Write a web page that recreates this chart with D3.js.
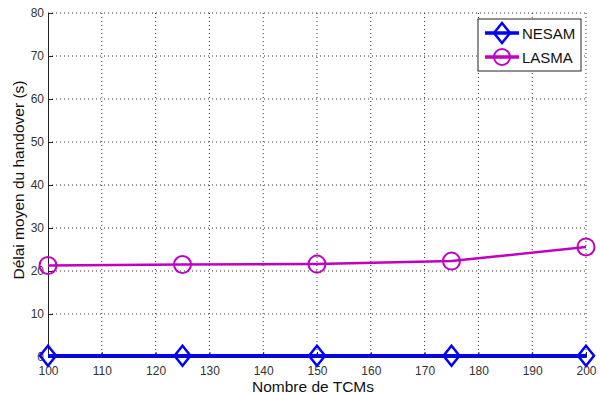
<!DOCTYPE html>
<meta charset="utf-8">
<script src="https://d3js.org/d3.v7.min.js"></script>
<style>
  body { margin: 0; background: #fff; }
  text { font-family: Arial, 'Liberation Sans', sans-serif; }
</style>
<body>
<div id="chart"></div>
<script>
// data
var tcms = [100, 125, 150, 175, 200];
var nesam = [0.3, 0.3, 0.3, 0.3, 0.3];
var lasma = [21.3, 21.5, 21.6, 22.3, 25.6];
var xTicks = [100, 110, 120, 130, 140, 150, 160, 170, 180, 190, 200];
var yTicks = [10, 20, 30, 40, 50, 60, 70, 80];

var W = 600, H = 394;
var margin = {top: 13, right: 14, bottom: 37, left: 48};
var width = W - margin.left - margin.right,
    height = H - margin.top - margin.bottom;

var svg = d3.select("#chart").append("svg")
    .attr("width", W).attr("height", H)
  .append("g")
    .attr("transform", "translate(" + margin.left + "," + margin.top + ")");

var x = d3.scaleLinear().domain([100, 200]).range([0, width]);
var y = d3.scaleLinear().domain([0, 80]).range([height, 0]);

// dotted grid
svg.append("g").selectAll("line").data(xTicks.slice(1))
  .enter().append("line")
    .attr("x1", d => x(d)).attr("x2", d => x(d))
    .attr("y1", 0).attr("y2", height)
    .attr("stroke", "#333").attr("stroke-width", 1)
    .attr("stroke-dasharray", "1,3");
svg.append("g").selectAll("line").data(yTicks)
  .enter().append("line")
    .attr("x1", 0).attr("x2", width)
    .attr("y1", d => y(d)).attr("y2", d => y(d))
    .attr("stroke", "#333").attr("stroke-width", 1)
    .attr("stroke-dasharray", "1,3");

// axes
var xAxis = svg.append("g")
  .attr("transform", "translate(0," + height + ")")
  .call(d3.axisBottom(x).tickValues(xTicks).tickSize(-5).tickPadding(9));
var yAxis = svg.append("g")
  .call(d3.axisLeft(y).tickValues([0].concat(yTicks)).tickSize(-5).tickPadding(4));
[xAxis, yAxis].forEach(function(a) {
  a.select(".domain").attr("stroke", "#222");
  a.selectAll(".tick line").attr("stroke", "#222");
  a.selectAll("text").attr("fill", "#333").style("font-size", "12px")
    .style("font-family", "Arial, 'Liberation Sans', sans-serif");
});

// axis labels
svg.append("text")
  .attr("x", width / 2 - 4).attr("y", height + 35)
  .attr("text-anchor", "middle").style("font-size", "15.5px").attr("fill", "#111")
  .text("Nombre de TCMs");
svg.append("text")
  .attr("transform", "rotate(-90)")
  .attr("x", -167).attr("y", -24)
  .attr("text-anchor", "middle").style("font-size", "15.5px").attr("fill", "#111")
  .text("Délai moyen du handover (s)");

// series
var line = d3.line().x(d => x(d[0])).y(d => y(d[1]));
var nesamPts = tcms.map((t, i) => [t, nesam[i]]);
var lasmaPts = tcms.map((t, i) => [t, lasma[i]]);

svg.append("path").datum(lasmaPts).attr("d", line)
  .attr("fill", "none").attr("stroke", "#c000c0").attr("stroke-width", 2.5);
svg.append("g").selectAll("circle").data(lasmaPts)
  .enter().append("circle")
    .attr("cx", d => x(d[0])).attr("cy", d => y(d[1])).attr("r", 8.5)
    .attr("fill", "none").attr("stroke", "#c000c0").attr("stroke-width", 2);

svg.append("path").datum(nesamPts).attr("d", line)
  .attr("fill", "none").attr("stroke", "#0000ff").attr("stroke-width", 3.5);
var diamond = function(cx, cy) {
  return "M" + cx + "," + (cy - 10) + "L" + (cx + 8) + "," + cy +
         "L" + cx + "," + (cy + 10) + "L" + (cx - 8) + "," + cy + "Z";
};
svg.append("g").selectAll("path").data(nesamPts)
  .enter().append("path")
    .attr("d", d => diamond(x(d[0]), y(d[1])))
    .attr("fill", "none").attr("stroke", "#0000ff").attr("stroke-width", 2.5);

// legend
var lg = svg.append("g").attr("transform", "translate(" + (478 - margin.left) + "," + (19 - margin.top) + ")");
lg.append("rect").attr("width", 103).attr("height", 52)
  .attr("fill", "#fff").attr("stroke", "#222").attr("stroke-width", 1);
lg.append("line").attr("x1", 7).attr("x2", 41).attr("y1", 14).attr("y2", 14)
  .attr("stroke", "#0000ff").attr("stroke-width", 3.5);
lg.append("path").attr("d", diamond(24, 14))
  .attr("fill", "none").attr("stroke", "#0000ff").attr("stroke-width", 2.5);
lg.append("line").attr("x1", 7).attr("x2", 41).attr("y1", 38).attr("y2", 38)
  .attr("stroke", "#c000c0").attr("stroke-width", 3.5);
lg.append("circle").attr("cx", 24).attr("cy", 38).attr("r", 8)
  .attr("fill", "none").attr("stroke", "#c000c0").attr("stroke-width", 2);
lg.append("text").attr("x", 44).attr("y", 19.5).style("font-size", "15px").attr("fill", "#111").text("NESAM");
lg.append("text").attr("x", 44).attr("y", 43.5).style("font-size", "15px").attr("fill", "#111").text("LASMA");
</script>
</body>
